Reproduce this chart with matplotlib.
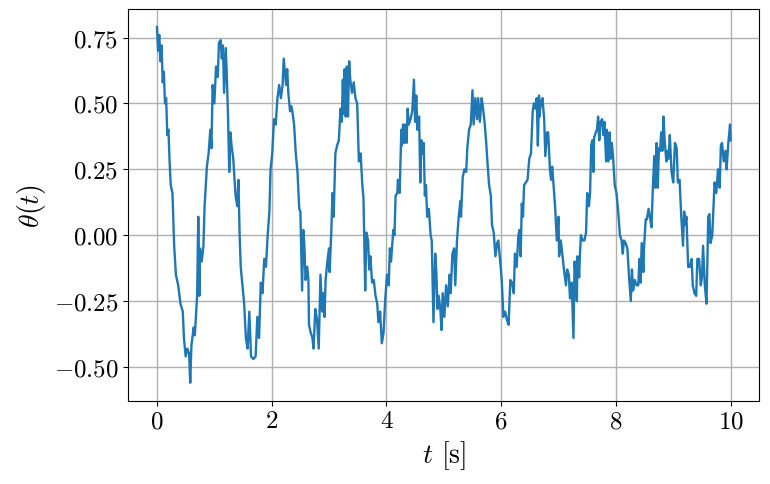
import matplotlib
matplotlib.use('Agg')
import matplotlib.pyplot as plt

# values, (t, theta) pairs
t = [0.00, 0.02, 0.04, 0.06, 0.08, 0.10, 0.12, 0.14, 0.16, 0.18,
     0.20, 0.22, 0.24, 0.27, 0.30, 0.33, 0.37, 0.41, 0.45, 0.47,
     0.50, 0.53, 0.56, 0.58, 0.60, 0.64, 0.66, 0.70, 0.72, 0.74,
     0.75, 0.78, 0.81, 0.83, 0.87, 0.90, 0.93, 0.95, 0.97, 1.00,
     1.03, 1.06, 1.08, 1.11, 1.13, 1.15, 1.17, 1.20, 1.22, 1.24,
     1.26, 1.28, 1.30, 1.33, 1.37, 1.40, 1.42, 1.44, 1.46, 1.49,
     1.52, 1.55, 1.58, 1.61, 1.64, 1.68, 1.72, 1.75, 1.78, 1.81,
     1.84, 1.87, 1.90, 1.93, 1.96, 1.98, 2.01, 2.04, 2.07, 2.10,
     2.13, 2.16, 2.19, 2.21, 2.23, 2.25, 2.27, 2.29, 2.32, 2.34,
     2.36, 2.39, 2.42, 2.45, 2.48, 2.50, 2.53, 2.55, 2.57, 2.59,
     2.62, 2.64, 2.65, 2.68, 2.71, 2.73, 2.76, 2.79, 2.82, 2.85,
     2.88, 2.90, 2.92, 2.94, 2.97, 3.00, 3.01, 3.04, 3.06, 3.08,
     3.11, 3.14, 3.17, 3.20, 3.22, 3.24, 3.26, 3.27, 3.29, 3.31,
     3.33, 3.35, 3.37, 3.40, 3.43, 3.46, 3.49, 3.52, 3.55, 3.58,
     3.60, 3.63, 3.65, 3.68, 3.70, 3.72, 3.75, 3.78, 3.81, 3.84,
     3.86, 3.89, 3.92, 3.95, 3.98, 4.01, 4.04, 4.06, 4.08, 4.10,
     4.12, 4.14, 4.16, 4.19, 4.20, 4.23, 4.26, 4.27, 4.29, 4.31,
     4.33, 4.35, 4.37, 4.39, 4.42, 4.45, 4.48, 4.50, 4.52, 4.54,
     4.57, 4.59, 4.61, 4.63, 4.65, 4.67, 4.69, 4.71, 4.74, 4.77,
     4.79, 4.82, 4.85, 4.87, 4.89, 4.91, 4.94, 4.96, 4.98, 5.01,
     5.04, 5.07, 5.10, 5.12, 5.15, 5.18, 5.20, 5.23, 5.26, 5.29,
     5.30, 5.33, 5.36, 5.39, 5.41, 5.44, 5.47, 5.50, 5.52, 5.55,
     5.58, 5.60, 5.63, 5.66, 5.68, 5.71, 5.74, 5.76, 5.79, 5.82,
     5.84, 5.87, 5.90, 5.93, 5.95, 5.98, 6.01, 6.04, 6.07, 6.10,
     6.13, 6.16, 6.19, 6.22, 6.24, 6.27, 6.30, 6.32, 6.34, 6.36,
     6.38, 6.40, 6.43, 6.46, 6.49, 6.52, 6.55, 6.57, 6.60, 6.62,
     6.64, 6.66, 6.67, 6.69, 6.71, 6.72, 6.75, 6.77, 6.80, 6.82,
     6.85, 6.87, 6.89, 6.91, 6.94, 6.97, 7.00, 7.01, 7.04, 7.07,
     7.10, 7.13, 7.15, 7.18, 7.20, 7.23, 7.26, 7.28, 7.30, 7.32,
     7.33, 7.36, 7.37, 7.39, 7.42, 7.45, 7.48, 7.50, 7.53, 7.55,
     7.57, 7.59, 7.61, 7.62, 7.65, 7.67, 7.69, 7.71, 7.73, 7.76,
     7.78, 7.80, 7.83, 7.84, 7.87, 7.89, 7.91, 7.93, 7.95, 7.98,
     8.01, 8.04, 8.07, 8.10, 8.12, 8.14, 8.17, 8.20, 8.23, 8.26,
     8.28, 8.30, 8.33, 8.36, 8.39, 8.41, 8.43, 8.45, 8.48, 8.49,
     8.52, 8.54, 8.57, 8.60, 8.62, 8.65, 8.67, 8.69, 8.71, 8.73,
     8.75, 8.77, 8.79, 8.81, 8.83, 8.85, 8.88, 8.90, 8.92, 8.94,
     8.97, 9.00, 9.03, 9.06, 9.08, 9.11, 9.14, 9.17, 9.19, 9.21,
     9.23, 9.26, 9.29, 9.32, 9.34, 9.37, 9.40, 9.42, 9.45, 9.48,
     9.50, 9.52, 9.55, 9.58, 9.61, 9.63, 9.65, 9.68, 9.70, 9.72,
     9.75, 9.78, 9.81, 9.83, 9.85, 9.88, 9.91, 9.93, 9.96, 9.99,
     10.00]

theta = [0.79, 0.70, 0.76, 0.66, 0.72, 0.58, 0.62, 0.50, 0.52, 0.38,
         0.40, 0.28, 0.19, 0.16, -0.04, -0.15, -0.19, -0.26, -0.29, -0.39,
         -0.46, -0.43, -0.45, -0.56, -0.42, -0.35, -0.38, -0.23, 0.07, -0.23,
         -0.05, -0.10, -0.04, 0.11, 0.26, 0.31, 0.40, 0.33, 0.57, 0.50,
         0.64, 0.60, 0.73, 0.74, 0.67, 0.72, 0.54, 0.71, 0.59, 0.44,
         0.24, 0.39, 0.34, 0.29, 0.15, 0.11, 0.21, 0.01, -0.12, -0.19,
         -0.26, -0.39, -0.43, -0.29, -0.46, -0.47, -0.46, -0.31, -0.39, -0.18,
         -0.22, -0.09, -0.12, 0.00, 0.09, 0.25, 0.31, 0.44, 0.42, 0.52,
         0.57, 0.52, 0.57, 0.67, 0.62, 0.57, 0.63, 0.54, 0.47, 0.49,
         0.47, 0.42, 0.31, 0.24, 0.10, 0.09, -0.21, 0.02, -0.04, -0.17,
         -0.12, -0.17, -0.34, -0.37, -0.39, -0.43, -0.28, -0.32, -0.43, -0.15,
         -0.29, -0.22, -0.31, -0.17, -0.10, -0.05, -0.14, 0.02, 0.16, 0.07,
         0.31, 0.34, 0.36, 0.48, 0.43, 0.59, 0.46, 0.63, 0.45, 0.64,
         0.45, 0.66, 0.59, 0.54, 0.58, 0.52, 0.50, 0.28, 0.31, 0.19,
         0.14, -0.21, 0.01, -0.02, -0.13, -0.08, -0.18, -0.17, -0.23, -0.26,
         -0.33, -0.29, -0.41, -0.37, -0.24, -0.15, -0.19, -0.05, -0.10, -0.04,
         0.02, 0.00, 0.15, 0.16, 0.21, 0.16, 0.40, 0.34, 0.42, 0.35,
         0.42, 0.35, 0.48, 0.42, 0.44, 0.47, 0.59, 0.43, 0.53, 0.40,
         0.45, 0.20, 0.36, 0.31, 0.35, 0.15, 0.19, 0.07, 0.10, 0.00,
         -0.02, -0.33, -0.07, -0.14, -0.28, -0.23, -0.28, -0.36, -0.22, -0.31,
         -0.19, -0.27, -0.15, -0.22, -0.07, -0.05, -0.19, -0.02, 0.07, 0.13,
         0.07, 0.22, 0.25, 0.24, 0.33, 0.40, 0.42, 0.55, 0.42, 0.52,
         0.44, 0.52, 0.43, 0.52, 0.49, 0.43, 0.35, 0.28, 0.19, 0.15,
         0.04, 0.01, -0.08, -0.03, -0.02, -0.09, -0.17, -0.31, -0.29, -0.32,
         -0.34, -0.17, -0.18, -0.22, -0.07, -0.12, -0.00, 0.02, -0.08, 0.12,
         0.07, 0.19, 0.20, 0.21, 0.29, 0.31, 0.47, 0.50, 0.48, 0.52,
         0.34, 0.53, 0.45, 0.51, 0.49, 0.52, 0.44, 0.30, 0.39, 0.39,
         0.25, 0.21, 0.26, 0.20, 0.11, -0.02, 0.07, -0.08, -0.02, -0.08,
         -0.14, -0.19, -0.13, -0.15, -0.24, -0.18, -0.39, -0.10, -0.16, -0.25,
         -0.08, -0.16, -0.09, -0.00, -0.02, -0.02, 0.01, 0.16, 0.11, 0.16,
         0.34, 0.36, 0.24, 0.37, 0.39, 0.40, 0.45, 0.36, 0.43, 0.44,
         0.38, 0.43, 0.28, 0.40, 0.28, 0.39, 0.29, 0.35, 0.30, 0.19,
         0.16, 0.09, -0.00, -0.02, -0.07, -0.02, -0.03, -0.05, -0.16, -0.25,
         -0.13, -0.21, -0.17, -0.19, -0.19, -0.09, -0.18, -0.03, -0.14, -0.05,
         0.06, 0.06, 0.10, 0.06, 0.03, 0.21, 0.30, 0.18, 0.35, 0.18,
         0.33, 0.32, 0.39, 0.32, 0.45, 0.36, 0.28, 0.32, 0.29, 0.38,
         0.24, 0.20, 0.35, 0.33, 0.20, 0.21, 0.07, -0.04, 0.09, 0.04,
         0.07, -0.12, -0.12, -0.09, -0.19, -0.22, -0.23, -0.09, -0.09, -0.19,
         -0.16, -0.04, -0.19, -0.26, 0.07, 0.08, -0.03, -0.00, 0.10, 0.20,
         0.16, 0.25, 0.18, 0.34, 0.35, 0.28, 0.32, 0.25, 0.35, 0.42,
         0.36]

plt.rcParams['font.family'] = 'serif'
plt.rcParams['font.serif'] = ['cmr10']
plt.rcParams['mathtext.fontset'] = 'cm'
plt.rcParams['axes.formatter.use_mathtext'] = True

fig = plt.figure(figsize=(7.7, 4.85), dpi=100)
ax = fig.add_axes([0.1666, 0.172, 0.8195, 0.807])
ax.plot(t, theta, color='#1f77b4', linewidth=1.7)
ax.grid(True, color='#b0b0b0', linewidth=1.0)
ax.set_axisbelow(True)
ax.set_xlabel(r'$t$ [s]', fontsize=20)
ax.set_ylabel(r'$\theta(t)$', fontsize=20)
ax.tick_params(labelsize=18)
ax.set_yticks([-0.50, -0.25, 0.00, 0.25, 0.50, 0.75])
ax.set_yticklabels(['$-0.50$', '$-0.25$', '$0.00$', '$0.25$', '$0.50$', '$0.75$'])

fig.savefig('out.png', dpi=100)
